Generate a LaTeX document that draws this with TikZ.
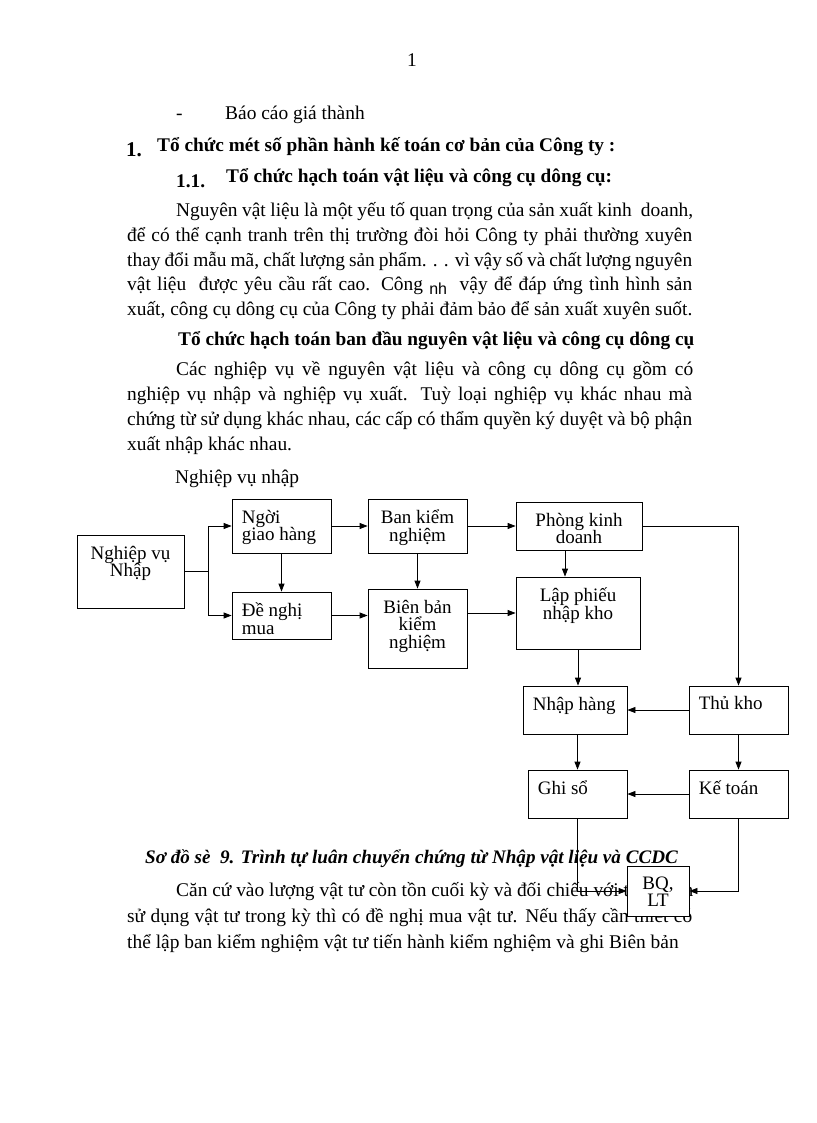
\documentclass[tikz,border=0pt]{standalone}
\usepackage{fontspec}
\setmainfont{Liberation Serif}
\setsansfont{Liberation Sans}
\usetikzlibrary{arrows.meta,positioning}
\newcommand{\bodyfont}{\fontsize{19.4}{24}\selectfont}
\newcommand{\headfont}{\fontsize{19.3}{24}\selectfont\bfseries}
\newcommand{\boxfont}{\fontsize{19}{17.5}\selectfont\lineskiplimit=-50pt\relax}
\newcommand{\fullline}[1]{\makebox[565pt][s]{#1}}
\newcommand{\firstline}[1]{\makebox[517pt][s]{#1}}

\begin{document}
\begin{tikzpicture}[x=1pt,y=-1pt,>={Triangle[length=8pt,width=6pt]},
  txt/.style={anchor=base west,inner sep=0pt,font=\bodyfont},
  box/.style={draw,line width=0.8pt,inner sep=0pt},
  mid/.style={anchor=north,align=center,inner sep=0pt,font=\boxfont,yshift=-11pt},
  lft/.style={anchor=north west,align=left,inner sep=0pt,font=\boxfont,xshift=10pt,yshift=-11pt},
  link/.style={->,line width=0.8pt}]
  \useasboundingbox[fill=white] (0,0) rectangle (816,1123);

  \node[anchor=base,inner sep=0pt,font=\bodyfont] (pagenum) at (412,67) {1};
  \node[txt] (dash) at (176,120) {-};
  \node[txt] (bcgt) at (225,120) {Báo cáo giá thành};
  \node[txt,font=\fontsize{21}{24}\selectfont\bfseries] (sec1) at (126,157) {1.};
  \node[txt,font=\headfont] (sec1t) at (157,152) {Tổ chức mét số phần hành kế toán cơ bản của Công ty :};
  \node[txt,font=\headfont] (sec11) at (176,188) {1.1.};
  \node[txt,font=\headfont] (sec11t) at (226,183) {Tổ chức hạch toán vật liệu và công cụ dông cụ:};

  \node[txt] (pa1) at (176,217) {\firstline{Nguyên vật liệu là một yếu tố quan trọng của sản xuất kinh \ doanh,}};
  \node[txt] (pa2) at (127,241.5) {\fullline{để có thể cạnh tranh trên thị trường đòi hỏi Công ty phải thường xuyên}};
  \node[txt] (pa3) at (127,266) {\fullline{thay đổi mẫu mã, chất lượng sản phẩm. . . vì vậy số và chất lượng nguyên}};
  \node[txt] (pa4) at (127,290.5) {\fullline{vật liệu \ được yêu cầu rất cao. Công {\fontsize{16}{16}\selectfont\sffamily\raisebox{-4pt}{nh}} \ vậy để đáp ứng tình hình sản}};
  \node[txt] (pa5) at (127,315) {xuất, công cụ dông cụ của Công ty phải đảm bảo để sản xuất xuyên suốt.};

  \node[txt,font=\headfont] (head2) at (178,345) {Tổ chức hạch toán ban đầu nguyên vật liệu và công cụ dông cụ};
  \node[txt] (pb1) at (176,375) {\firstline{Các nghiệp vụ về nguyên vật liệu và công cụ dông cụ gồm có}};
  \node[txt] (pb2) at (127,400) {\fullline{nghiệp vụ nhập và nghiệp vụ xuất. Tuỳ loại nghiệp vụ khác nhau mà}};
  \node[txt] (pb3) at (127,425) {\fullline{chứng từ sử dụng khác nhau, các cấp có thẩm quyền ký duyệt và bộ phận}};
  \node[txt] (pb4) at (127,450) {xuất nhập khác nhau.};
  \node[txt] (nvnhap) at (175,483) {Nghiệp vụ nhập};

  \node[txt,font=\fontsize{19.1}{24}\selectfont\bfseries\itshape] (caption) at (145,863) {Sơ đồ sè \ 9. Trình tự luân chuyển chứng từ Nhập vật liệu và CCDC};
  \node[txt] (pc1) at (176,896) {\firstline{Căn cứ vào lượng vật tư còn tồn cuối kỳ và đối chiếu với tình hình}};
  \node[txt] (pc2) at (127,922) {\fullline{sử dụng vật tư trong kỳ thì có đề nghị mua vật tư. Nếu thấy cần thiết có}};
  \node[txt] (pc3) at (127,948) {thể lập ban kiểm nghiệm vật tư tiến hành kiểm nghiệm và ghi Biên bản};

  \node[box,minimum width=107pt,minimum height=73pt,label={[mid]north:{Nghiệp vụ\\Nhập}}] (nv) at (130.5,571.5) {};
  \node[box,minimum width=99pt,minimum height=54pt,label={[lft]north west:{Ngời\\giao hàng}}] (ngh) at (281.5,526) {};
  \node[box,minimum width=99pt,minimum height=47pt,label={[lft]north west:{Đề nghị\\mua}}] (dn) at (281.5,615.5) {};
  \node[box,minimum width=99pt,minimum height=54pt,label={[mid]north:{Ban kiểm\\nghiệm}}] (bkn) at (417.5,526) {};
  \node[box,minimum width=99pt,minimum height=79pt,label={[mid]north:{Biên bản\\kiểm\\nghiệm}}] (bb) at (417.5,628.5) {};
  \node[box,minimum width=126pt,minimum height=48pt,label={[mid]north:{Phòng kinh\\doanh}}] (pkd) at (579,526) {};
  \node[box,minimum width=124pt,minimum height=72pt,label={[mid]north:{Lập phiếu\\nhập kho}}] (lpn) at (578,613) {};
  \node[box,minimum width=104pt,minimum height=48pt,label={[lft]north west:{Nhập hàng}}] (nh) at (575,710) {};
  \node[box,minimum width=99pt,minimum height=48pt,label={[lft]north west:{Thủ kho}}] (tk) at (738.5,710) {};
  \node[box,minimum width=99pt,minimum height=48pt,label={[lft]north west:{Ghi sổ}}] (gs) at (577.5,794) {};
  \node[box,minimum width=99pt,minimum height=48pt,label={[lft]north west:{Kế toán}}] (kt) at (738.5,794) {};
  \node[box,fill=white,minimum width=62pt,minimum height=50pt,label={[mid]north:{BQ,\\LT}}] (bq) at (658,891) {};

  \draw[line width=0.8pt] (nv.east) -- ++(24,0) coordinate (split);
  \draw[link] (split) |- (ngh.west);
  \draw[link] (split) |- (dn.west);
  \draw[link] (ngh.south) -- (dn.north);
  \draw[link] (ngh.east) -- (bkn.west);
  \draw[link] (bkn.south) -- (bb.north);
  \draw[link] (dn.east) -- (dn.east -| bb.west);
  \draw[link] (bkn.east) -- (pkd.west);
  \draw[link] (bb.east |- lpn.west) -- (lpn.west);
  \draw[link] ([xshift=-14pt]pkd.south) -- ([xshift=-14pt]pkd.south |- lpn.north);
  \draw[link] (lpn.south) -- (lpn.south |- nh.north);
  \draw[link] (pkd.east) -| (tk.north);
  \draw[link] (tk.west) -- (nh.east);
  \draw[link] (gs.north |- nh.south) -- (gs.north);
  \draw[link] (tk.south) -- (kt.north);
  \draw[link] (kt.west) -- (gs.east);
  \draw[link] (gs.south) |- (bq.west);
  \draw[link] (kt.south) |- (bq.east);
\end{tikzpicture}
\end{document}
